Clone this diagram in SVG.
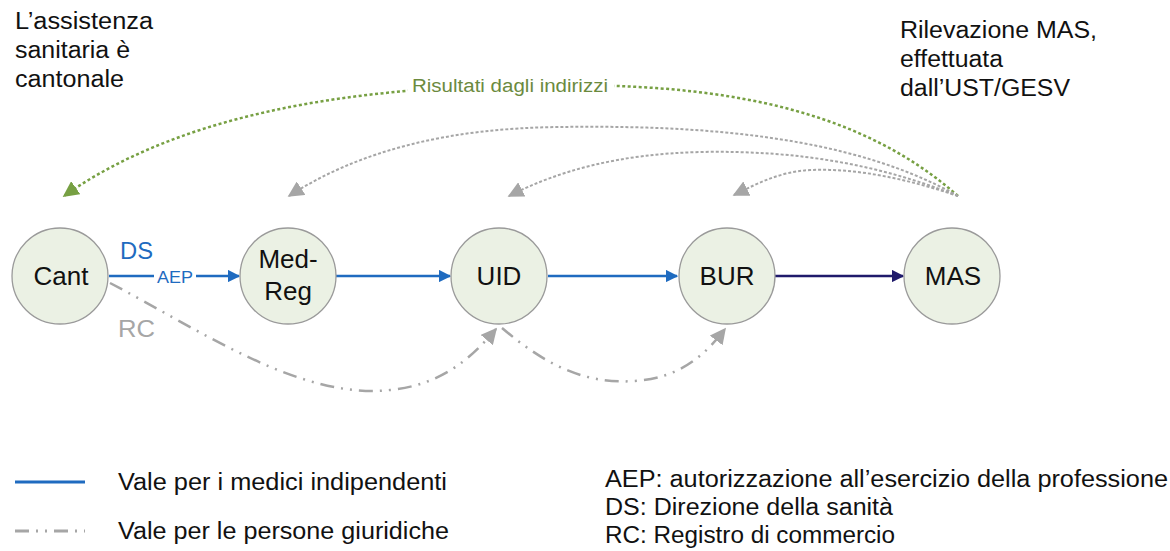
<svg xmlns="http://www.w3.org/2000/svg" width="1170" height="551" viewBox="0 0 1170 551">
<style>
text{font-family:"Liberation Sans",Arial,sans-serif}
.node circle{fill:#EBF1E4;stroke:#9a9a9a;stroke-width:1.3}
.node text{font-size:26px;fill:#111;text-anchor:middle}
.blue{stroke:#1F6BC0;stroke-width:2.5;fill:none}
.navy{stroke:#1F1A6B;stroke-width:2.5;fill:none}
.dd{stroke:#a6a6a6;stroke-width:2.5;fill:none;stroke-dasharray:14 7 2 7 2 7}
.dotg{stroke:#a6a6a6;stroke-width:2;fill:none;stroke-dasharray:3 2}
.dotgr{stroke:#77A043;stroke-width:2.5;fill:none;stroke-dasharray:3 2.5}
.t{font-size:23px;fill:#111}
</style>
<defs>
<marker id="ab" viewBox="0 0 10 10" refX="9" refY="5" markerWidth="5" markerHeight="5" orient="auto" markerUnits="strokeWidth"><path d="M0,0L10,5L0,10z" fill="#1F6BC0"/></marker>
<marker id="an" viewBox="0 0 10 10" refX="9" refY="5" markerWidth="5" markerHeight="5" orient="auto" markerUnits="strokeWidth"><path d="M0,0L10,5L0,10z" fill="#1F1A6B"/></marker>
<marker id="ag2" viewBox="0 0 10 10" refX="9" refY="5" markerWidth="16" markerHeight="16" orient="auto" markerUnits="userSpaceOnUse"><path d="M0,0L10,5L0,10z" fill="#a6a6a6"/></marker>
<marker id="agr" viewBox="0 0 10 10" refX="9" refY="5" markerWidth="16" markerHeight="16" orient="auto" markerUnits="userSpaceOnUse"><path d="M0,0L10,5L0,10z" fill="#77A043"/></marker>
</defs>
<g id="connectors">
<line class="blue" x1="109" y1="276" x2="239" y2="276" marker-end="url(#ab)"/>
<line class="blue" x1="336" y1="276" x2="450" y2="276" marker-end="url(#ab)"/>
<line class="blue" x1="548" y1="276" x2="677" y2="276" marker-end="url(#ab)"/>
<line class="navy" x1="775" y1="276" x2="903" y2="276" marker-end="url(#an)"/>
<path class="dd" d="M110,283 C200,330 300,400 390,390 C440,385 470,360 496,329" marker-end="url(#ag2)"/>
<path class="dd" d="M502,328 C540,360 580,385 635,381 C680,378 705,355 725,329" marker-end="url(#ag2)"/>
<path class="dotgr" d="M958,196 C850,100 700,85 560,85 C400,85 200,100 64,196" marker-end="url(#agr)"/>
<path class="dotg" d="M958,196 C850,135 700,125 560,127 C450,128 360,150 289,196" marker-end="url(#ag2)"/>
<path class="dotg" d="M958,196 C880,165 800,150 700,152 C620,154 560,170 509,196" marker-end="url(#ag2)"/>
<path class="dotg" d="M958,196 C910,180 860,168 810,170 C780,172 760,182 734,195" marker-end="url(#ag2)"/>
<rect x="408" y="74" width="206" height="22" fill="#fff"/>
<text x="412" y="92" font-size="18" fill="#6B8A3E" textLength="196" lengthAdjust="spacingAndGlyphs">Risultati dagli indirizzi</text>
<rect x="154" y="266" width="42" height="20" fill="#fff"/>
<text x="157" y="283" font-size="16" fill="#1F6BC0" textLength="36" lengthAdjust="spacingAndGlyphs">AEP</text>
<text x="120" y="259" font-size="23" fill="#1F6BC0" textLength="33" lengthAdjust="spacingAndGlyphs">DS</text>
<text x="118" y="337" font-size="23" fill="#a6a6a6" textLength="37" lengthAdjust="spacingAndGlyphs">RC</text>
</g>
<g id="node-cant" class="node"><circle cx="60" cy="276" r="48"/><text x="61" y="285">Cant</text></g>
<g id="node-medreg" class="node"><circle cx="288" cy="276" r="48"/><text x="288" y="268">Med-</text><text x="288" y="300">Reg</text></g>
<g id="node-uid" class="node"><circle cx="499" cy="276" r="48"/><text x="499" y="285">UID</text></g>
<g id="node-bur" class="node"><circle cx="727" cy="276" r="48"/><text x="727" y="285">BUR</text></g>
<g id="node-mas" class="node"><circle cx="952" cy="276" r="48"/><text x="953" y="285">MAS</text></g>
<g id="notes">
<text class="t" x="15" y="29" textLength="138" lengthAdjust="spacingAndGlyphs">L’assistenza</text>
<text class="t" x="15" y="58" textLength="115" lengthAdjust="spacingAndGlyphs">sanitaria è</text>
<text class="t" x="15" y="87" textLength="109" lengthAdjust="spacingAndGlyphs">cantonale</text>
<text class="t" x="900" y="38" textLength="197" lengthAdjust="spacingAndGlyphs">Rilevazione MAS,</text>
<text class="t" x="900" y="67" textLength="103" lengthAdjust="spacingAndGlyphs">effettuata</text>
<text class="t" x="900" y="96" textLength="170" lengthAdjust="spacingAndGlyphs">dall’UST/GESV</text>
</g>
<g id="legend">
<line x1="15" y1="482" x2="85" y2="482" stroke="#1F6BC0" stroke-width="3"/>
<line x1="15" y1="531" x2="85" y2="531" stroke="#a6a6a6" stroke-width="3" stroke-dasharray="14 7 2 7 2 7"/>
<text class="t" x="118" y="490" textLength="329" lengthAdjust="spacingAndGlyphs">Vale per i medici indipendenti</text>
<text class="t" x="118" y="539" textLength="331" lengthAdjust="spacingAndGlyphs">Vale per le persone giuridiche</text>
<text class="t" x="605" y="487" textLength="563" lengthAdjust="spacingAndGlyphs">AEP: autorizzazione all’esercizio della professione</text>
<text class="t" x="605" y="515" textLength="288" lengthAdjust="spacingAndGlyphs">DS: Direzione della sanità</text>
<text class="t" x="605" y="543" textLength="290" lengthAdjust="spacingAndGlyphs">RC: Registro di commercio</text>
</g>
</svg>
